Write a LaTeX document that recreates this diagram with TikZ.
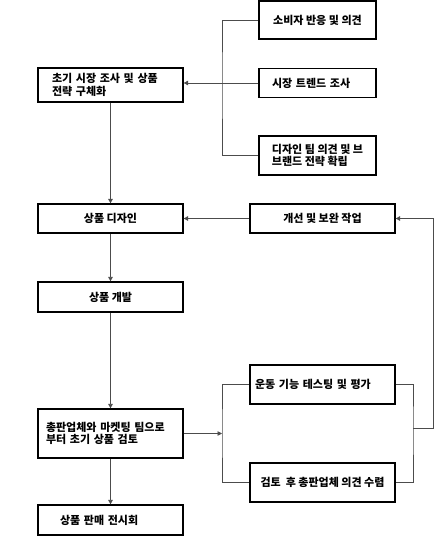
\documentclass[tikz,border=0pt]{standalone}
\usepackage{fontspec}
\setmainfont{Noto Sans CJK KR}
\usetikzlibrary{arrows.meta,calc}
\tikzset{
    box/.style={draw=black,line width=1.2pt,fill=white,inner sep=2pt,
      font=\fontsize{11}{12.5}\selectfont\bfseries,align=left},
    wide/.style={box,minimum width=145pt},
    narrow/.style={box,minimum width=117pt},
    link/.style={draw=black!70,line width=0.7pt},
    arr/.style={link,-{Triangle[length=4.5pt,width=4.5pt]}},
  }
\begin{document}
\begin{tikzpicture}[x=1pt,y=-1pt]
				  %cadre
				  \useasboundingbox (0,0) rectangle (436,537);
				  %colonne gauche
				  \node[wide,minimum height=34pt,inner xsep=14pt,text width=117pt] (survey) at (110.5,85) {초기 시장 조사 및 상품\\전략 구체화};
				  \node[wide,minimum height=29pt] (design) at (110.5,218.5) {상품 디자인};
				  \node[wide,minimum height=30pt] (develop) at (110.5,297) {상품 개발};
				  \node[wide,minimum height=49pt,inner xsep=8pt,text width=129pt] (review) at (110.5,433.5) {총판업체와 마켓팅 팀으로\\부터 초기 상품 검토};
				  \node[wide,minimum height=30pt,inner xsep=22pt,text width=101pt] (expo) at (110.5,520) {상품 판매 전시회};
				  %colonne droite
				  \node[narrow,minimum height=38pt] (consumer) at (317.5,20) {소비자 반응 및 의견};
				  \node[narrow,minimum height=29pt,inner xsep=13pt,text width=91pt] (trend) at (317.5,83) {시장 트렌드 조사};
				  \node[narrow,minimum height=39pt] (brand) at (317.5,155.5) {디자인 팀 의견 및 브\\브랜드 전략 확립};
				  \node[wide,minimum height=29pt] (improve) at (322.5,218.5) {개선 및 보완 작업};
				  \node[wide,minimum height=39pt,inner xsep=5pt,text width=135pt] (test) at (322.5,384.5) {운동 기능 테스팅 및 평가};
				  \node[wide,minimum height=39pt] (feedback) at (322.5,482.5) {검토\ \ 후 총판업체 의견 수렴};
				  %bus
				  \coordinate (busA) at (222,83);
				  \coordinate (busB) at (222,433.5);
				  \coordinate (busC) at (413,428);
				  \coordinate (loop) at (433,428);
				  %liaisons
				  \draw[link] (consumer.west) -| (busA) |- (brand.west);
				  \draw[arr] (trend.west) -- (trend.west -| survey.east);
				  \draw[arr] (survey) -- (design);
				  \draw[arr] (improve) -- (design);
				  \draw[arr] (design) -- (develop);
				  \draw[arr] (develop) -- (review);
				  \draw[arr] (review) -- (expo);
				  \draw[arr] (review.east) -- (busB);
				  \draw[link] (test.west) -| (busB) |- (feedback.west);
				  \draw[link] (test.east) -| (busC) |- (feedback.east);
				  \draw[arr] (busC) -- (loop) |- (improve.east);
				  \end{tikzpicture}
\end{document}
